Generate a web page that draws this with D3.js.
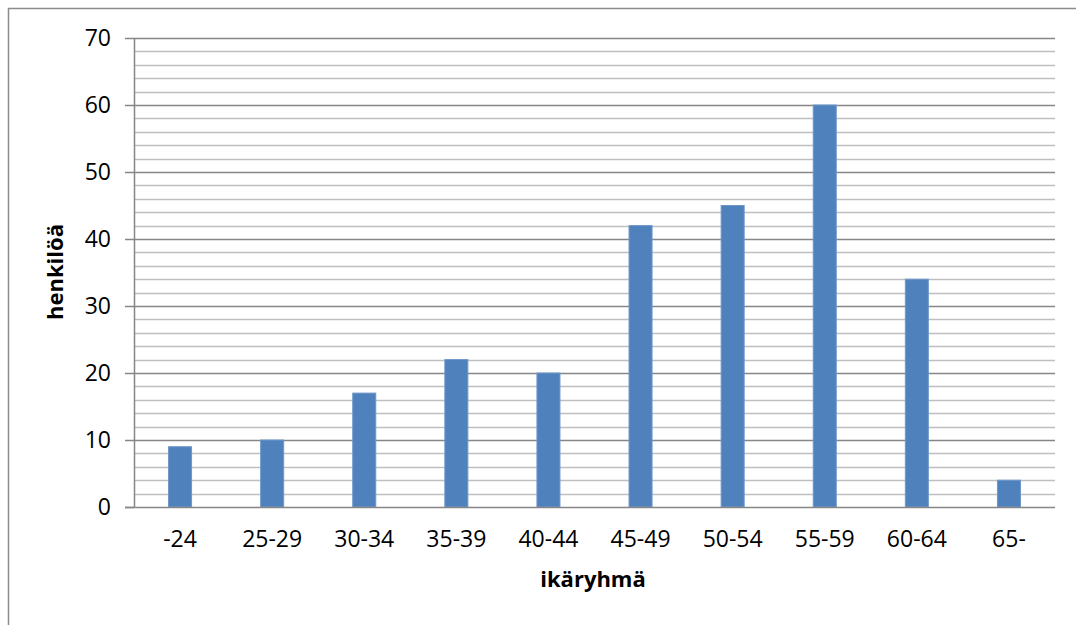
<!DOCTYPE html>
<html>
<head>
<meta charset="utf-8">
<script src="https://cdn.jsdelivr.net/npm/d3@7/dist/d3.min.js"></script>
<style>
  html, body { margin: 0; padding: 0; background: #fff; }
  svg text { font-family: "Open Sans", "Noto Sans", sans-serif; fill: #000; }
</style>
</head>
<body>
<svg id="chart" width="1076" height="625"></svg>
<script>
const categories = ["-24", "25-29", "30-34", "35-39", "40-44", "45-49", "50-54", "55-59", "60-64", "65-"];
const values = [9, 10, 17, 22, 20, 42, 45, 60, 34, 4];
const yTicks = [0, 10, 20, 30, 40, 50, 60, 70];
const yMinorTicks = [2, 4, 6, 8, 12, 14, 16, 18, 22, 24, 26, 28, 32, 34, 36, 38, 42, 44, 46, 48, 52, 54, 56, 58, 62, 64, 66, 68];
const xTitle = "ikäryhmä";
const yTitle = "henkilöä";

const svg = d3.select("#chart");
const margin = { left: 134, top: 38, right: 1055, bottom: 507 };

// outer frame
svg.append("rect")
  .attr("x", 8.5).attr("y", 8.5)
  .attr("width", 1100).attr("height", 700)
  .attr("fill", "none").attr("stroke", "#8c8c8c").attr("stroke-width", 1.5);

const x = d3.scaleBand().domain(categories).range([margin.left, margin.right]).paddingInner(0).paddingOuter(0);
const y = d3.scaleLinear().domain([0, 70]).range([margin.bottom, margin.top]);

// minor gridlines
svg.append("g").selectAll("line").data(yMinorTicks).join("line")
  .attr("x1", margin.left).attr("x2", margin.right)
  .attr("y1", d => Math.round(y(d)) + 0.5).attr("y2", d => Math.round(y(d)) + 0.5)
  .attr("stroke", "#bfbfbf").attr("stroke-width", 1.5);

// major gridlines
svg.append("g").selectAll("line").data(yTicks.filter(d => d > 0)).join("line")
  .attr("x1", margin.left).attr("x2", margin.right)
  .attr("y1", d => Math.round(y(d)) + 0.5).attr("y2", d => Math.round(y(d)) + 0.5)
  .attr("stroke", "#868686").attr("stroke-width", 1.5);

// bars
const bw = x.bandwidth() * 0.25;
svg.append("g").selectAll("rect").data(values).join("rect")
  .attr("x", (d, i) => x(categories[i]) + x.bandwidth() / 2 - bw / 2)
  .attr("width", bw)
  .attr("y", d => y(d))
  .attr("height", d => y(0) - y(d))
  .attr("fill", "#4f81bd")
  .attr("stroke", "#6f97c9").attr("stroke-width", 1);

// y axis
const yAxis = d3.axisLeft(y).tickValues(yTicks).tickSize(9).tickPadding(14).tickFormat(d3.format("d"));
const gy = svg.append("g").attr("transform", `translate(${margin.left},0)`).call(yAxis);
gy.select(".domain").attr("stroke", "#868686").attr("stroke-width", 1.5).attr("d", `M0.5,${margin.top}V${margin.bottom}`);
gy.selectAll(".tick line").attr("stroke", "#868686").attr("stroke-width", 1.5);
gy.selectAll(".tick text").attr("font-size", 23).attr("font-family", "Open Sans").attr("fill", "#000");

// x axis
const xAxis = d3.axisBottom(x).tickSize(0).tickPadding(24);
const gx = svg.append("g").attr("transform", `translate(0,${margin.bottom})`).call(xAxis);
gx.select(".domain").attr("stroke", "#868686").attr("stroke-width", 1.5).attr("d", `M${margin.left - 9},0.5H${margin.right}`);
gx.selectAll(".tick text").attr("font-size", 23).attr("font-family", "Open Sans").attr("fill", "#000");

// titles
svg.append("text")
  .attr("x", 593)
  .attr("y", 587)
  .attr("text-anchor", "middle")
  .attr("font-size", 22).attr("font-weight", "bold")
  .text(xTitle);

svg.append("text")
  .attr("transform", `translate(63,272) rotate(-90)`)
  .attr("text-anchor", "middle")
  .attr("font-size", 22).attr("font-weight", "bold")
  .text(yTitle);
</script>
</body>
</html>
